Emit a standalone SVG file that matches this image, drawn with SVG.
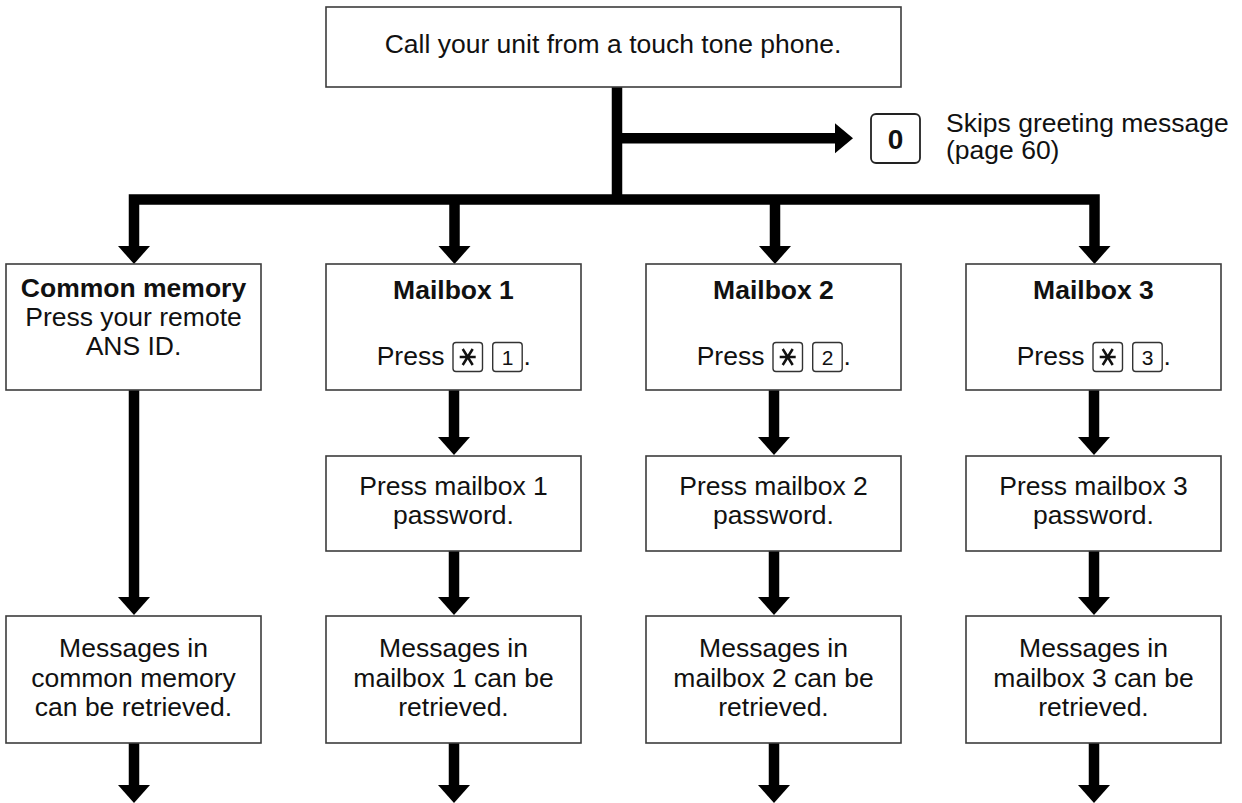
<svg xmlns="http://www.w3.org/2000/svg" width="1242" height="803" viewBox="0 0 1242 803">
<style>
.box{fill:#fff;stroke:#3c3c3c;stroke-width:1.6}
.t{font-family:"Liberation Sans",Arial,sans-serif;font-size:26.5px;fill:#111;text-anchor:middle}
.b{font-weight:bold}
.l{text-anchor:start}
.key{fill:#fff;stroke:#333;stroke-width:1.4}
.kt{font-family:"Liberation Sans",Arial,sans-serif;font-size:21px;fill:#111;text-anchor:middle}
.star{fill:none;stroke:#111;stroke-width:2.5;stroke-linecap:butt}
.conn{fill:none;stroke:#000;stroke-width:10.5;stroke-linejoin:miter}
.head{fill:#000}
</style>
<rect width="1242" height="803" fill="#fff"/>
<g id="connectors">
<path class="conn" d="M617,87 V199.5"/>
<path class="conn" d="M134,246 V199.5 H1094.5 V246"/>
<path class="conn" d="M454.5,199.5 V246 M775,199.5 V246"/>
<path class="conn" d="M617,138.3 H836"/>
<polygon class="head" points="835,123.3 835,153.3 853,138.3"/>
<polygon class="head" points="118,246 150,246 134,264"/>
<polygon class="head" points="438.5,246 470.5,246 454.5,264"/>
<polygon class="head" points="759,246 791,246 775,264"/>
<polygon class="head" points="1078.5,246 1110.5,246 1094.5,264"/>
<path class="conn" d="M134,390 V598 M454,390 V438 M774,390 V438 M1094,390 V438"/>
<polygon class="head" points="438,437 470,437 454,455"/>
<polygon class="head" points="758,437 790,437 774,455"/>
<polygon class="head" points="1078,437 1110,437 1094,455"/>
<path class="conn" d="M454,551 V598 M774,551 V598 M1094,551 V598"/>
<polygon class="head" points="118,597 150,597 134,615"/>
<polygon class="head" points="438,597 470,597 454,615"/>
<polygon class="head" points="758,597 790,597 774,615"/>
<polygon class="head" points="1078,597 1110,597 1094,615"/>
<path class="conn" d="M134,743 V786 M454,743 V786 M774,743 V786 M1094,743 V786"/>
<polygon class="head" points="118,785 150,785 134,803"/>
<polygon class="head" points="438,785 470,785 454,803"/>
<polygon class="head" points="758,785 790,785 774,803"/>
<polygon class="head" points="1078,785 1110,785 1094,803"/>
</g>
<g id="start">
<rect class="box" x="326" y="7" width="575" height="80"/>
<text class="t" x="613" y="52.5">Call your unit from a touch tone phone.</text>
</g>
<g id="skip">
<rect x="871" y="114" width="49" height="49" rx="5" fill="#fff" stroke="#222" stroke-width="1.8"/>
<text class="t b" x="895.5" y="149" style="font-size:28px">0</text>
<text class="t l" x="946" y="131.5">Skips greeting message</text>
<text class="t l" x="946" y="159">(page 60)</text>
</g>
<g id="common">
<rect class="box" x="6" y="264" width="255" height="126"/>
<text class="t b" x="133.5" y="297">Common memory</text>
<text class="t" x="133.5" y="326">Press your remote</text>
<text class="t" x="133.5" y="355">ANS ID.</text>
</g>
<g id="mailbox1">
<rect class="box" x="326" y="264" width="255" height="126"/>
<text class="t b" x="453.5" y="299">Mailbox 1</text>
<text class="t l" x="376.7" y="365">Press</text>
<rect class="key" x="453" y="342.5" width="29.5" height="29" rx="3"/>
<path class="star" d="M459.7,357 H475.7 M462.7,349 L472.7,365 M472.7,349 L462.7,365"/>
<rect class="key" x="492.7" y="342.5" width="29.5" height="29" rx="3"/>
<text class="kt" x="507.5" y="365">1</text>
<text class="t l" x="523.5" y="365">.</text>
</g>
<g id="mailbox2">
<rect class="box" x="646" y="264" width="255" height="126"/>
<text class="t b" x="773.5" y="299">Mailbox 2</text>
<text class="t l" x="696.7" y="365">Press</text>
<rect class="key" x="773" y="342.5" width="29.5" height="29" rx="3"/>
<path class="star" d="M779.7,357 H795.7 M782.7,349 L792.7,365 M792.7,349 L782.7,365"/>
<rect class="key" x="812.7" y="342.5" width="29.5" height="29" rx="3"/>
<text class="kt" x="827.5" y="365">2</text>
<text class="t l" x="843.5" y="365">.</text>
</g>
<g id="mailbox3">
<rect class="box" x="966" y="264" width="255" height="126"/>
<text class="t b" x="1093.5" y="299">Mailbox 3</text>
<text class="t l" x="1016.7" y="365">Press</text>
<rect class="key" x="1093" y="342.5" width="29.5" height="29" rx="3"/>
<path class="star" d="M1099.7,357 H1115.7 M1102.7,349 L1112.7,365 M1112.7,349 L1102.7,365"/>
<rect class="key" x="1132.7" y="342.5" width="29.5" height="29" rx="3"/>
<text class="kt" x="1147.5" y="365">3</text>
<text class="t l" x="1163.5" y="365">.</text>
</g>
<g id="pw1">
<rect class="box" x="326" y="456" width="255" height="95"/>
<text class="t" x="453.5" y="494.5">Press mailbox 1</text>
<text class="t" x="453.5" y="523.5">password.</text>
</g>
<g id="pw2">
<rect class="box" x="646" y="456" width="255" height="95"/>
<text class="t" x="773.5" y="494.5">Press mailbox 2</text>
<text class="t" x="773.5" y="523.5">password.</text>
</g>
<g id="pw3">
<rect class="box" x="966" y="456" width="255" height="95"/>
<text class="t" x="1093.5" y="494.5">Press mailbox 3</text>
<text class="t" x="1093.5" y="523.5">password.</text>
</g>
<g id="msg-common">
<rect class="box" x="6" y="616" width="255" height="127"/>
<text class="t" x="133.5" y="657">Messages in</text>
<text class="t" x="133.5" y="686.5">common memory</text>
<text class="t" x="133.5" y="716">can be retrieved.</text>
</g>
<g id="msg1">
<rect class="box" x="326" y="616" width="255" height="127"/>
<text class="t" x="453.5" y="657">Messages in</text>
<text class="t" x="453.5" y="686.5">mailbox 1 can be</text>
<text class="t" x="453.5" y="716">retrieved.</text>
</g>
<g id="msg2">
<rect class="box" x="646" y="616" width="255" height="127"/>
<text class="t" x="773.5" y="657">Messages in</text>
<text class="t" x="773.5" y="686.5">mailbox 2 can be</text>
<text class="t" x="773.5" y="716">retrieved.</text>
</g>
<g id="msg3">
<rect class="box" x="966" y="616" width="255" height="127"/>
<text class="t" x="1093.5" y="657">Messages in</text>
<text class="t" x="1093.5" y="686.5">mailbox 3 can be</text>
<text class="t" x="1093.5" y="716">retrieved.</text>
</g>
</svg>
